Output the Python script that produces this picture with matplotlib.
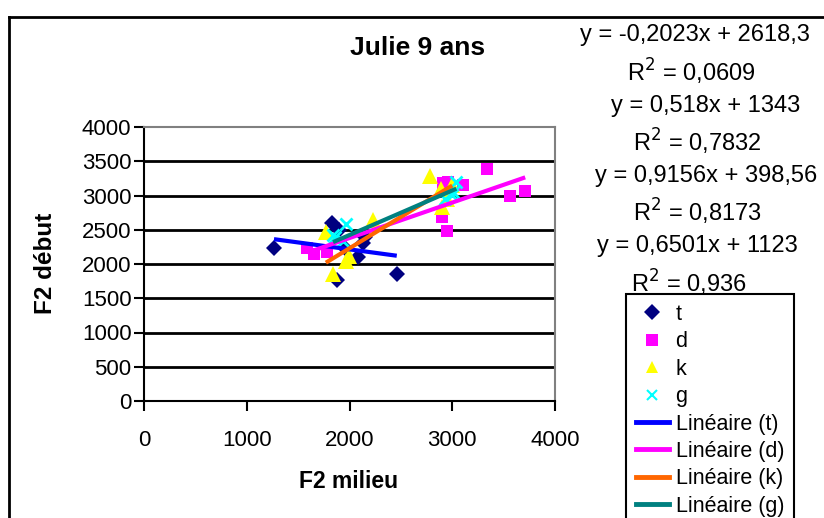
import matplotlib
matplotlib.use("Agg")
import matplotlib.pyplot as plt
from matplotlib.lines import Line2D
import numpy as np

plt.rcParams['font.family'] = ['Liberation Sans', 'DejaVu Sans']

# ---- data ----
t_x = [1265, 1825, 1900, 1875, 1960, 2085, 2130, 2150, 2460]
t_y = [2235, 2600, 2490, 1770, 2240, 2100, 2300, 2400, 1855]
d_x = [1590, 1650, 1780, 2910, 2960, 3100, 2900, 2950, 3340, 3560, 3710]
d_y = [2230, 2150, 2180, 3180, 3190, 3150, 2690, 2480, 3390, 2990, 3060]
k_x = [1770, 1835, 1970, 1995, 2230, 2780, 2890, 2900, 2950, 3000]
k_y = [2470, 1850, 2050, 2110, 2640, 3290, 3100, 2830, 2950, 3150]
g_x = [1840, 1860, 1940, 1965, 2930, 3000, 3010, 3040]
g_y = [2430, 2400, 2330, 2590, 2950, 3010, 3050, 3200]

series_names = ['t', 'd', 'k', 'g']
slopes = [-0.2023, 0.518, 0.9156, 0.6501]
intercepts = [2618.3, 1343, 398.56, 1123]
equations = ['y = -0,2023x + 2618,3', 'R$^2$ = 0,0609',
             'y = 0,518x + 1343', 'R$^2$ = 0,7832',
             'y = 0,9156x + 398,56', 'R$^2$ = 0,8173',
             'y = 0,6501x + 1123', 'R$^2$ = 0,936']
x_ticks = [0, 1000, 2000, 3000, 4000]
y_ticks = [0, 500, 1000, 1500, 2000, 2500, 3000, 3500, 4000]

W, H = 824, 518
fig = plt.figure(figsize=(W / 100, H / 100), dpi=100)
fig.patch.set_facecolor('white')

def fx(px):
    return px / W

def fy(py):
    return 1 - py / H

# outer chart border (top & left visible)
fig.add_artist(Line2D([fx(9), fx(824)], [fy(17), fy(17)], color='black', lw=2))
fig.add_artist(Line2D([fx(9), fx(9)], [fy(17), fy(518)], color='black', lw=2))

ax = fig.add_axes([fx(144), fy(401), fx(555) - fx(144), fy(127) - fy(401)])
ax.set_xlim(0, 4000)
ax.set_ylim(0, 4000)

# gridlines
for yv in y_ticks[1:-1]:
    ax.axhline(yv, color='black', lw=2, zorder=1)
for s in ['top', 'right']:
    ax.spines[s].set_color('#808080')
    ax.spines[s].set_linewidth(1.5)
for s in ['left', 'bottom']:
    ax.spines[s].set_color('black')
    ax.spines[s].set_linewidth(1.5)

ax.set_xticks(x_ticks)
ax.set_yticks(y_ticks)
ax.tick_params(axis='both', direction='out', length=7, width=1.5, labelsize=16)
ax.tick_params(axis='x', pad=14)
ax.tick_params(axis='y', pad=2)

series = [(t_x, t_y), (d_x, d_y), (k_x, k_y), (g_x, g_y)]
markers = ['D', 's', '^', 'x']
mcolors = ['#000080', '#FF00FF', '#FFFF00', '#00FFFF']
msizes = [8.5, 9, 11, 9]
lcolors = ['#0000FF', '#FF00FF', '#FF6600', '#008080']

handles = []
for (xs, ys), m, c, ms, name in zip(series, markers, mcolors, msizes, series_names):
    if m == 'x':
        ax.plot(xs, ys, linestyle='none', marker=m, color=c, markersize=ms,
                markeredgewidth=2, clip_on=False, zorder=3)
        handles.append(Line2D([], [], linestyle='none', marker=m, color=c,
                              markersize=7, markeredgewidth=1.5, label=name))
    else:
        ax.plot(xs, ys, linestyle='none', marker=m, color=c, markersize=ms,
                markeredgewidth=0, clip_on=False, zorder=3)
        handles.append(Line2D([], [], linestyle='none', marker=m, color=c,
                              markersize=8.5, markeredgewidth=0, label=name))

for (xs, ys), a, b, c, name in zip(series, slopes, intercepts, lcolors, series_names):
    xr = np.array([min(xs), max(xs)])
    ax.plot(xr, a * xr + b, color=c, lw=3, zorder=4, solid_capstyle='butt')
    handles.append(Line2D([], [], color=c, lw=3.5, label='Linéaire (%s)' % name))

# title & axis labels
fig.text(fx(418), fy(48), 'Julie 9 ans', ha='center', va='center',
         fontsize=19, fontweight='bold')
fig.text(fx(349), fy(481), 'F2 milieu', ha='center', va='center',
         fontsize=16.5, fontweight='bold')
fig.text(fx(46), fy(263), 'F2 début', ha='center', va='center',
         fontsize=17.5, fontweight='bold', rotation=90)

# equation labels
eq_pos = [(695, 35), (691, 72), (706, 106), (697, 142),
          (706, 176), (697, 212), (697, 246), (689, 283)]
for txt, (px, py) in zip(equations, eq_pos):
    fig.text(fx(px), fy(py), txt, ha='center', va='center', fontsize=17)

leg = fig.legend(handles=handles, loc='upper left',
                 bbox_to_anchor=(fx(626), fy(294)), bbox_transform=fig.transFigure,
                 fontsize=15.5, frameon=True, fancybox=False, edgecolor='black',
                 framealpha=1, handlelength=1.55, handletextpad=0.3,
                 labelspacing=0.3, borderpad=0.45, borderaxespad=0)
leg.get_frame().set_linewidth(1.5)

fig.savefig('out.png', dpi=100)
